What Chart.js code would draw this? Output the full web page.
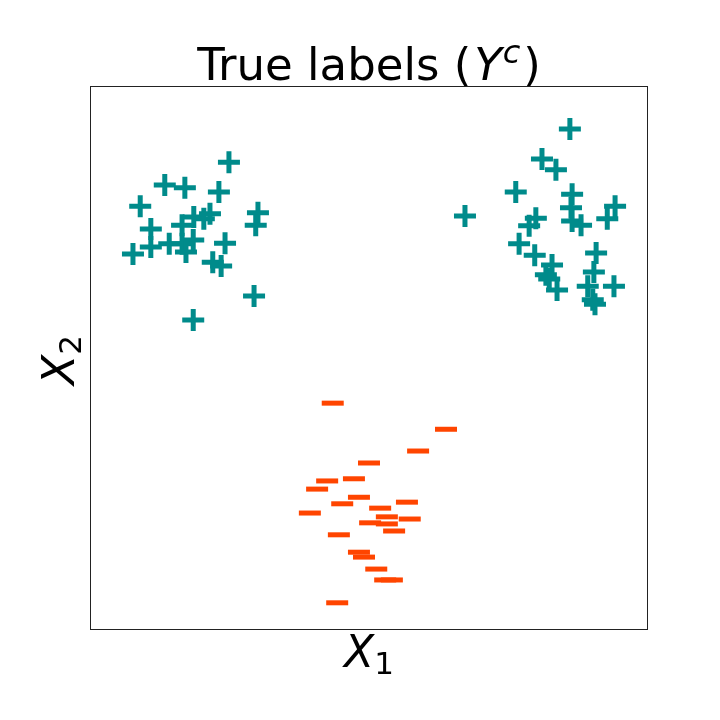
<!DOCTYPE html>
<html>
<head>
<meta charset="utf-8">
<script src="https://cdn.jsdelivr.net/npm/chart.js@4"></script>
<style>
  body { margin: 0; background: #fff; }
  canvas { display: block; }
</style>
</head>
<body>
<canvas id="scatter" width="720" height="720"></canvas>
<script>
// points, axis range 0..10 both ways
const plusX = [2.49, 1.34, 1.70, 2.31, 0.90, 3.01, 2.97, 1.86, 2.04, 2.15, 1.65, 1.09,
  1.85, 1.42, 1.65, 1.72, 1.09, 0.77, 2.42, 2.20, 2.35, 2.94, 1.85,
  8.60, 8.10, 8.35, 7.63, 6.72, 8.64, 8.62, 9.41, 9.27, 7.99, 7.87, 8.64, 8.80,
  7.69, 7.97, 9.07, 8.28, 9.03, 8.17, 8.23, 8.37, 8.92, 9.39, 9.01, 9.05];
const plusY = [8.60, 8.18, 8.13, 8.05, 7.79, 7.67, 7.44, 7.59, 7.56, 7.65, 7.44, 7.37,
  7.17, 7.10, 7.10, 6.95, 7.04, 6.91, 7.11, 6.76, 6.69, 6.14, 5.70,
  9.21, 8.66, 8.46, 8.05, 7.61, 8.01, 7.76, 7.79, 7.56, 7.57, 7.43, 7.52, 7.44,
  7.10, 6.89, 6.93, 6.71, 6.58, 6.53, 6.45, 6.25, 6.32, 6.32, 6.07, 5.99];
const minusX = [4.35, 6.38, 5.88, 5.00, 4.25, 4.73, 4.07, 4.82, 4.52, 5.68, 3.94, 5.20,
  5.32, 5.73, 5.02, 5.32, 5.45, 4.46, 4.82, 4.91, 5.13, 5.29, 5.41, 4.43];
const minusY = [4.17, 3.69, 3.29, 3.07, 2.74, 2.78, 2.59, 2.44, 2.32, 2.35, 2.15, 2.24,
  2.08, 2.04, 1.97, 1.95, 1.82, 1.75, 1.43, 1.34, 1.12, 0.92, 0.92, 0.50];

const axisMin = 0;
const axisMax = 10;

const toPoints = (xs, ys) => xs.map((x, i) => ({ x: x, y: ys[i] }));

// draws a row of text pieces (mixed fonts) centred on cx
function drawRuns(ctx, runs, cx, cy) {
  let total = 0;
  runs.forEach((r) => {
    ctx.font = r.font;
    r.w = ctx.measureText(r.text).width + (r.gap || 0);
    total += r.w;
  });
  let x = cx - total / 2;
  runs.forEach((r) => {
    ctx.font = r.font;
    ctx.fillText(r.text, x, cy + (r.dy || 0));
    x += r.w;
  });
}

const labelsPlugin = {
  id: "labels",
  afterDraw(chart) {
    const ctx = chart.ctx;
    const a = chart.chartArea;
    ctx.save();
    // frame
    ctx.strokeStyle = "#222";
    ctx.lineWidth = 1;
    ctx.strokeRect(a.left + 0.5, a.top + 0.5, a.right - a.left - 1, a.bottom - a.top - 1);

    ctx.fillStyle = "#000";
    ctx.textBaseline = "alphabetic";
    ctx.textAlign = "left";
    const cx = (a.left + a.right) / 2;
    const cy = (a.top + a.bottom) / 2;
    const big = '44px "DejaVu Sans"';
    const bigIt = 'italic 44px "DejaVu Sans"';
    const small = '31px "DejaVu Sans"';

    drawRuns(ctx, [
      { text: "True labels (", font: '45px "DejaVu Sans"', gap: 3 },
      { text: "Y", font: 'italic 45px "DejaVu Sans"', gap: 1 },
      { text: "c", font: 'italic 32px "DejaVu Sans"', dy: -17, gap: 3 },
      { text: ")", font: '45px "DejaVu Sans"' },
    ], cx, 80);

    drawRuns(ctx, [
      { text: "X", font: bigIt },
      { text: "1", font: small, dy: 7 },
    ], cx, 667);

    ctx.translate(74, cy + 2);
    ctx.rotate(-Math.PI / 2);
    drawRuns(ctx, [
      { text: "X", font: bigIt },
      { text: "2", font: small, dy: 7 },
    ], 0, 0);
    ctx.restore();
  },
};

new Chart(document.getElementById("scatter"), {
  type: "scatter",
  data: {
    datasets: [
      {
        label: "+",
        data: toPoints(plusX, plusY),
        pointStyle: "cross",
        radius: 11,
        hoverRadius: 11,
        borderWidth: 5,
        hoverBorderWidth: 5,
        borderColor: "#008b8b",
        backgroundColor: "#008b8b",
      },
      {
        label: "-",
        data: toPoints(minusX, minusY),
        pointStyle: "line",
        radius: 11,
        hoverRadius: 11,
        borderWidth: 5,
        hoverBorderWidth: 5,
        borderColor: "#ff4500",
        backgroundColor: "#ff4500",
      },
    ],
  },
  options: {
    responsive: false,
    animation: false,
    events: [],
    layout: {
      padding: { left: 90, right: 72, top: 86, bottom: 90 },
    },
    scales: {
      x: { type: "linear", min: axisMin, max: axisMax, display: false },
      y: { type: "linear", min: axisMin, max: axisMax, display: false },
    },
    plugins: {
      legend: { display: false },
      tooltip: { enabled: false },
    },
  },
  plugins: [labelsPlugin],
});
</script>
</body>
</html>
